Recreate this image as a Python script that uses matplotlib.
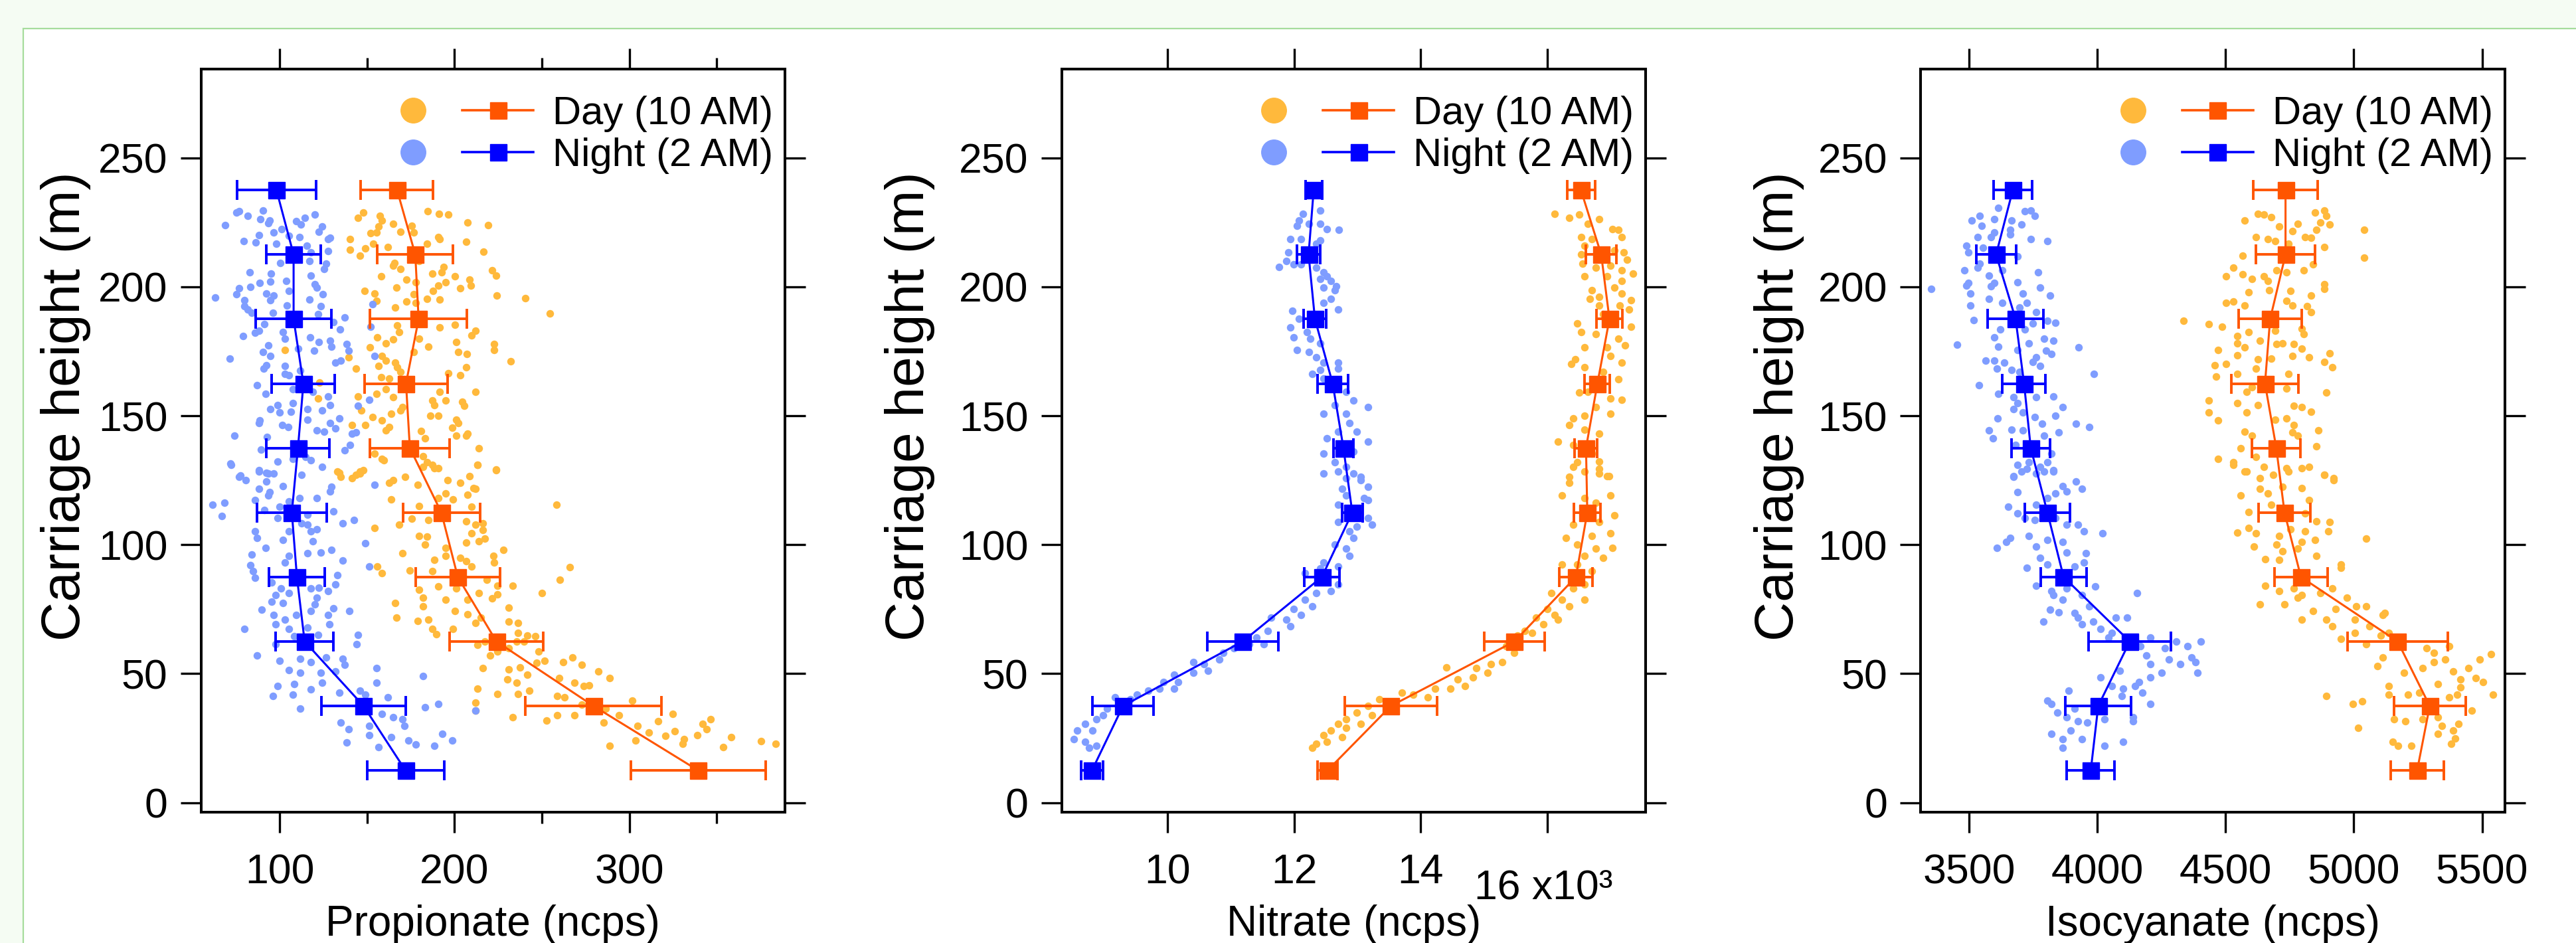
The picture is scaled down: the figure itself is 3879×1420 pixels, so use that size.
import numpy as np
import matplotlib
matplotlib.use('Agg')
import matplotlib.pyplot as plt
import matplotlib.transforms as mtransforms
from matplotlib.lines import Line2D
from matplotlib.legend_handler import HandlerTuple
from matplotlib.patches import Rectangle

plt.rcParams['font.family'] = ['Liberation Sans', 'DejaVu Sans']

# 25 m bins of the carriage height, bottom to top
bin_height = [12.5, 37.5, 62.5, 87.5, 112.5, 137.5, 162.5, 187.5, 212.5, 237.5]

# binned means and spread (ncps); nitrate kept in units of 10^3 ncps
prop_day_mean = [339.4, 279.5, 224.0, 201.9, 192.5, 174.5, 172.3, 179.5, 177.6, 167.2]
prop_day_err = [38.5, 39.0, 26.8, 24.0, 22.0, 22.9, 23.8, 27.7, 21.7, 20.7]
prop_night_mean = [172.0, 148.0, 114.3, 109.9, 107.0, 110.5, 113.6, 108.0, 108.0, 98.2]
prop_night_err = [22.0, 24.0, 16.5, 16.0, 20.0, 18.0, 18.0, 21.5, 15.5, 22.5]

nitr_day_mean = [12.53, 13.53, 15.48, 16.45, 16.63, 16.61, 16.79, 16.98, 16.85, 16.53]
nitr_day_err = [0.16, 0.73, 0.48, 0.26, 0.21, 0.18, 0.20, 0.20, 0.24, 0.22]
nitr_night_mean = [8.81, 9.30, 11.19, 12.44, 12.92, 12.78, 12.61, 12.33, 12.23, 12.31]
nitr_night_err = [0.17, 0.48, 0.56, 0.28, 0.16, 0.16, 0.24, 0.18, 0.18, 0.13]

iso_day_mean = [5247, 5296, 5171, 4794, 4730, 4698, 4654, 4674, 4734, 4734]
iso_day_err = [104, 140, 195, 103, 101, 95, 131, 122, 116, 126]
iso_night_mean = [3975, 4004, 4127, 3869, 3806, 3741, 3715, 3682, 3606, 3671]
iso_night_err = [93, 127, 160, 90, 87, 76, 84, 108, 77, 76]

# individual measurements: (height m, signal)
prop_night_pts = [
    (228.8, 75.3), (229.4, 77.0), (227.5, 81.7), (229.5, 90.3), (226.3, 88.8), (225.6, 94.1), (224.7, 93.5),
    (223.9, 68.9), (222.4, 101.0), (220.1, 88.1), (221.1, 96.7), (217.8, 79.6), (217.1, 86.4), (216.6, 98.0),
    (219.8, 105.2), (219.2, 111.2), (225.4, 109.5), (224.1, 112.0), (226.7, 114.4), (228.1, 120.2),
    (223.4, 124.4), (221.3, 122.3), (218.5, 127.6), (219.0, 128.7), (216.0, 115.5), (213.4, 118.0),
    (213.8, 127.6), (210.0, 117.0), (209.1, 126.6), (207.0, 125.5), (209.3, 100.5), (205.7, 82.8),
    (205.0, 95.2), (202.2, 103.9), (202.0, 94.5), (201.4, 88.6), (200.0, 83.2), (199.4, 77.0), (197.1, 75.3),
    (195.8, 63.2), (194.7, 80.0), (197.5, 92.4), (196.7, 96.7), (194.7, 94.5), (198.4, 105.2), (204.4, 118.0),
    (200.9, 120.2), (199.8, 121.2), (197.1, 124.8), (195.1, 117.2), (192.8, 104.1), (192.4, 80.0),
    (191.1, 81.7), (189.8, 83.9), (189.8, 96.3), (192.4, 123.4), (189.4, 121.9), (188.1, 137.2),
    (186.4, 130.8), (183.4, 134.7), (185.5, 91.3), (182.5, 102.0), (182.1, 86.0), (180.8, 79.2),
    (182.9, 88.1), (179.9, 103.1), (180.4, 117.4), (178.6, 122.3), (179.2, 128.7), (176.1, 110.6),
    (177.3, 93.5), (174.8, 90.3), (173.3, 94.5), (172.2, 71.5), (177.8, 138.3), (175.2, 139.4),
    (176.9, 129.8), (175.2, 119.7), (169.6, 92.4), (168.3, 90.7), (169.2, 103.1), (166.2, 103.1),
    (165.8, 105.2), (167.5, 111.6), (170.5, 131.9), (171.3, 135.1), (161.9, 87.1), (158.5, 92.0),
    (160.2, 107.4), (159.3, 119.1), (157.6, 127.6), (154.2, 98.8), (152.5, 94.5), (151.2, 99.9),
    (155.0, 107.4), (151.6, 106.3), (152.5, 115.9), (152.0, 124.4), (154.2, 128.7), (148.2, 88.6),
    (147.3, 88.1), (146.5, 101.4), (145.6, 104.8), (148.6, 115.9), (147.3, 128.7), (148.9, 134.0),
    (144.3, 121.2), (143.9, 125.5), (145.2, 131.9), (142.2, 74.3), (141.7, 92.8), (137.0, 89.2),
    (132.3, 98.8), (133.2, 107.4), (134.0, 114.8), (132.7, 118.0), (131.6, 71.9), (128.4, 88.1),
    (127.6, 93.5), (127.6, 96.7), (127.2, 112.7), (143.5, 143.6), (138.7, 140.4), (136.6, 137.2),
    (143.0, 141.5), (130.2, 124.4), (126.9, 77.5), (193.2, 153.2), (184.6, 152.2), (173.3, 154.3),
    (156.3, 151.1), (153.8, 144.7),
    (131.0, 72.1), (128.9, 88.1), (128.0, 92.4), (126.3, 77.0), (125.0, 80.7), (124.6, 92.4),
    (122.8, 102.0), (121.6, 88.1), (120.3, 94.1), (117.3, 86.0), (119.0, 93.5), (116.8, 105.2),
    (118.1, 111.2), (118.1, 121.2), (122.4, 129.8), (120.7, 128.7), (115.4, 61.5), (116.2, 68.5),
    (111.1, 66.8), (110.4, 98.8), (113.4, 91.3), (114.7, 99.9), (111.7, 115.9), (108.3, 112.7),
    (105.3, 118.0), (105.3, 105.2), (107.8, 115.9), (106.1, 121.2), (105.3, 86.0), (102.7, 87.1),
    (101.8, 102.0), (101.4, 119.1), (113.0, 130.8), (108.3, 136.2), (109.7, 142.6), (100.5, 149.0),
    (123.3, 154.3), (96.3, 83.9), (98.8, 92.0), (92.0, 83.4), (89.8, 84.9), (93.2, 103.1), (95.8, 105.2),
    (96.7, 115.9), (97.1, 123.4), (98.0, 129.8), (93.8, 136.2), (91.5, 151.1), (88.1, 133.0),
    (84.7, 131.9), (87.2, 86.0), (85.5, 95.6), (83.0, 100.9), (80.4, 97.7), (81.2, 105.2), (83.0, 118.0),
    (83.4, 122.3), (82.1, 127.6), (79.5, 121.2), (76.9, 120.2), (77.8, 95.6), (77.4, 102.0), (74.8, 89.9),
    (72.7, 96.7), (70.9, 103.1), (72.7, 109.5), (74.4, 118.0), (72.7, 127.6), (75.4, 130.8),
    (74.2, 139.8), (69.2, 128.3), (69.2, 97.7), (67.3, 80.0), (67.5, 105.2), (67.9, 115.9),
    (64.5, 108.4), (65.1, 121.9), (65.1, 144.7), (61.5, 144.1), (61.5, 97.7), (57.2, 87.1), (55.1, 99.9),
    (55.9, 111.6), (54.6, 118.0), (56.4, 126.6), (55.9, 136.2), (53.4, 137.2), (51.4, 105.2),
    (50.3, 111.6), (50.3, 123.4), (50.8, 131.9), (52.1, 155.4), (49.2, 182.0), (45.2, 98.8),
    (46.1, 108.4), (43.9, 118.0), (46.5, 124.4), (42.6, 134.0), (43.5, 145.8), (41.8, 149.0),
    (46.5, 155.4), (41.3, 96.0), (41.8, 107.4), (36.6, 111.6), (40.9, 161.8), (37.1, 183.1),
    (38.3, 190.6), (35.8, 211.9), (31.0, 135.1), (28.5, 139.4), (29.8, 151.1), (34.5, 158.6),
    (33.2, 165.0), (29.8, 171.4), (32.3, 170.3), (23.3, 138.3), (21.6, 156.4), (26.3, 151.1),
    (25.5, 163.9), (24.2, 173.5), (22.5, 177.8), (22.0, 188.4), (26.8, 193.1), (24.2, 198.7),
]

prop_day_pts = [
    (228.8, 147.9), (226.7, 144.7), (227.5, 157.5), (225.8, 158.6), (224.5, 165.0), (223.3, 156.4),
    (221.1, 155.4), (220.9, 152.2), (221.3, 169.2), (223.7, 175.6), (221.1, 176.7), (229.4, 184.6),
    (228.4, 191.2), (228.0, 196.6), (225.0, 207.6), (223.9, 219.4), (218.4, 140.4), (214.4, 140.4),
    (212.0, 145.8), (214.9, 149.0), (216.8, 153.7), (215.5, 161.8), (209.3, 165.6), (208.2, 165.0),
    (207.0, 169.2), (210.0, 179.9), (216.8, 184.2), (219.2, 190.6), (218.5, 191.6), (217.5, 206.6),
    (213.6, 216.6), (204.1, 158.1), (199.7, 166.7), (202.9, 172.6), (201.8, 177.8), (197.1, 176.7),
    (205.2, 187.4), (207.8, 193.8), (205.7, 192.7), (204.0, 200.2), (201.8, 194.8), (200.5, 190.6),
    (198.4, 187.8), (195.4, 184.2), (195.0, 191.6), (199.5, 203.4), (202.7, 208.7), (200.5, 209.4),
    (206.5, 221.5), (204.4, 223.7), (196.5, 224.1), (195.6, 240.7), (189.6, 254.6), (198.5, 148.5),
    (197.5, 154.3), (194.5, 155.4), (191.9, 166.0), (194.3, 172.4), (193.7, 177.8), (185.9, 179.9),
    (182.5, 168.2), (185.1, 167.1), (179.5, 165.0), (178.2, 160.7), (180.4, 156.0), (176.5, 151.7),
    (179.9, 179.9), (176.8, 185.2), (184.2, 191.6), (185.2, 200.2), (178.5, 201.2), (181.2, 209.8),
    (182.9, 211.9), (177.8, 222.6), (175.6, 222.6), (174.8, 202.3), (173.9, 207.0), (171.1, 232.2),
    (172.6, 139.4), (173.1, 158.6), (171.3, 160.7), (170.5, 166.0), (168.8, 167.1), (167.1, 169.2),
    (168.3, 143.6), (169.2, 156.4), (164.9, 158.1), (164.5, 162.8), (157.6, 144.7), (158.5, 155.4),
    (160.2, 160.7), (157.2, 165.0), (152.0, 146.8), (149.5, 153.2), (148.2, 158.6), (150.8, 163.9),
    (152.0, 169.2), (153.3, 170.3), (155.9, 187.4), (154.2, 188.4), (155.9, 194.8), (159.3, 191.6),
    (165.8, 203.4), (168.8, 206.6), (159.3, 211.9), (166.4, 196.3), (155.5, 204.4), (153.8, 205.5),
    (149.9, 186.3), (150.1, 190.6), (148.6, 201.2), (147.3, 202.3), (145.3, 198.7), (146.5, 141.5),
    (146.5, 149.0), (144.3, 160.7), (145.6, 162.8), (144.1, 181.0), (141.3, 183.1), (142.2, 206.6),
    (143.0, 207.6), (142.2, 201.2), (137.5, 214.1), (135.3, 154.3), (133.2, 158.6), (132.7, 159.6),
    (134.4, 182.0), (131.9, 184.2), (131.0, 187.4), (129.7, 190.6), (131.0, 213.0), (128.9, 223.7),
    (128.0, 134.0), (128.4, 145.8), (127.2, 143.6), (175.6, 103.1), (156.8, 121.9), (162.8, 122.7),
    (174.8, 176.7),
    (128.4, 133.0), (126.3, 135.1), (125.9, 141.5), (127.6, 145.8), (128.9, 147.9), (124.1, 162.8),
    (125.0, 165.0), (126.3, 171.8), (123.3, 178.8), (130.1, 182.0), (129.7, 188.4), (125.0, 195.9),
    (124.1, 203.4), (122.0, 210.8), (121.6, 211.9), (126.7, 208.7), (131.0, 213.0), (129.1, 223.7),
    (117.7, 163.9), (106.5, 154.3), (96.7, 170.3), (115.1, 179.9), (118.1, 190.6), (119.8, 194.8),
    (117.7, 199.1), (119.4, 207.6), (114.7, 209.8), (107.8, 168.2), (110.0, 175.6), (109.5, 185.2),
    (109.1, 206.6), (107.8, 211.9), (108.3, 216.2), (105.7, 216.2), (103.5, 179.9), (103.1, 184.2),
    (104.4, 209.8), (100.1, 183.1), (98.8, 194.8), (101.4, 214.1), (102.3, 217.3), (100.8, 206.6),
    (94.1, 188.4), (95.8, 194.8), (95.0, 203.4), (93.7, 206.6), (91.5, 209.8), (95.8, 222.2),
    (98.0, 227.9), (93.2, 222.6), (91.5, 156.0), (89.0, 158.6), (90.0, 174.6), (89.8, 187.4),
    (86.4, 218.3), (84.2, 224.7), (84.0, 233.3), (115.6, 258.4), (91.4, 265.9), (86.4, 260.4),
    (81.4, 249.9), (82.5, 179.9), (83.8, 190.6), (83.0, 201.2), (81.2, 214.1), (79.5, 182.0),
    (78.7, 194.8), (78.7, 207.6), (79.1, 221.5), (80.8, 224.7), (75.7, 231.1), (77.4, 166.0),
    (76.1, 182.0), (74.4, 200.2), (73.1, 207.6), (71.8, 215.1), (71.8, 166.7), (70.5, 178.8),
    (70.9, 185.2), (67.5, 187.4), (65.4, 189.5), (67.5, 199.1), (69.7, 211.9), (70.1, 231.1),
    (69.7, 236.5), (64.9, 241.8), (65.8, 236.5), (64.5, 246.1), (62.4, 217.3), (61.1, 213.0),
    (62.4, 235.4), (62.4, 239.7), (57.2, 220.5), (58.5, 224.7), (59.8, 231.1), (58.5, 248.2),
    (52.2, 216.2), (51.6, 231.1), (52.5, 237.5), (49.5, 241.8), (54.2, 247.1), (55.1, 251.4),
    (54.6, 262.1), (56.4, 267.4), (53.4, 272.7), (47.8, 230.1), (46.5, 235.4), (48.2, 259.9),
    (46.5, 268.5), (45.2, 273.8), (45.6, 277.0), (50.8, 282.3), (48.2, 288.7), (44.2, 213.0),
    (42.2, 224.7), (42.2, 236.5), (43.5, 242.9), (41.3, 258.9), (40.9, 263.1), (38.8, 211.9),
    (35.8, 211.9), (33.2, 233.3), (31.9, 252.5), (34.0, 258.9), (34.0, 268.5), (37.9, 272.7),
    (36.6, 286.6), (34.0, 294.1), (39.6, 301.5), (31.0, 285.5), (29.8, 304.7), (27.2, 311.1),
    (31.5, 316.5), (25.9, 320.8), (34.5, 325.0), (27.6, 326.1), (24.6, 331.4), (26.3, 338.9),
    (30.6, 342.1), (28.5, 344.2), (32.3, 346.4), (22.9, 330.4), (22.0, 288.7), (24.2, 303.7),
    (21.6, 353.8), (25.5, 358.1), (23.9, 375.2), (22.9, 383.7),
]

nitr_night_pts = [
    (229.7, 12.41), (228.4, 12.14), (225.8, 12.08), (223.7, 12.05), (224.5, 12.23), (224.5, 12.41),
    (222.4, 12.52), (222.0, 12.71), (218.5, 11.94), (218.5, 12.11), (218.1, 12.41), (216.8, 12.35),
    (213.4, 11.91), (210.0, 11.88), (207.8, 11.76), (208.7, 11.99), (208.7, 12.11), (207.4, 12.35),
    (205.7, 12.47), (204.0, 12.52), (203.1, 12.41), (202.2, 12.58), (200.1, 12.67), (198.8, 12.64),
    (199.7, 12.47), (195.4, 12.58), (193.7, 12.47), (191.1, 12.70), (190.7, 11.97), (187.6, 12.08),
    (184.2, 11.94), (182.5, 12.20), (180.4, 11.99), (179.9, 12.26), (178.2, 12.41), (175.6, 12.05),
    (174.8, 12.23), (172.6, 12.35), (170.5, 12.47), (167.9, 12.41), (166.2, 12.29), (170.5, 12.70),
    (168.3, 12.70), (164.5, 12.47), (159.3, 12.82), (155.9, 12.94), (153.3, 13.17), (154.2, 12.64),
    (150.8, 12.47), (150.8, 12.82), (147.3, 12.88), (143.9, 12.99), (143.9, 12.70), (140.0, 13.17),
    (141.3, 12.52), (135.3, 12.47), (136.2, 12.94), (131.9, 12.64), (127.6, 12.47), (127.6, 12.94),
    (126.3, 13.05), (130.2, 12.82),
    (128.4, 12.70), (125.9, 12.82), (125.0, 13.05), (122.4, 13.17), (121.6, 12.76), (119.0, 12.82),
    (118.1, 13.11), (117.3, 13.17), (115.6, 12.70), (113.8, 12.99), (110.4, 13.17), (107.8, 13.23),
    (108.7, 12.70), (107.0, 12.99), (105.3, 12.88), (102.7, 12.94), (100.1, 12.64), (98.4, 12.82),
    (95.8, 12.88), (93.2, 12.47), (91.5, 12.70), (90.7, 12.41), (89.0, 12.17), (86.4, 12.52),
    (84.7, 12.70), (82.1, 12.58), (81.2, 12.35), (78.7, 12.17), (76.1, 12.29), (75.2, 11.99),
    (72.7, 12.11), (70.9, 11.88), (71.8, 11.64), (68.4, 11.94), (66.6, 11.58), (64.1, 11.41),
    (61.5, 11.29), (61.5, 11.52), (59.8, 11.05), (58.1, 10.88), (55.5, 10.82), (53.8, 10.58),
    (54.6, 10.41), (51.2, 10.64), (50.3, 10.41), (49.5, 10.11), (46.9, 10.17), (46.9, 9.94),
    (44.3, 9.88), (44.3, 10.11), (43.5, 9.70), (41.8, 9.52), (40.1, 9.41), (38.3, 9.29), (40.9, 9.17),
    (36.6, 9.05), (34.0, 8.99), (32.3, 8.88), (30.6, 8.70), (28.0, 8.82), (28.0, 8.58), (24.6, 8.52),
    (23.7, 8.70), (22.0, 8.88), (21.2, 8.76),
]

nitr_day_pts = [
    (228.4, 16.11), (226.7, 16.35), (228.0, 16.50), (224.5, 16.64), (226.3, 16.82), (222.4, 17.03),
    (222.0, 17.12), (219.4, 17.17), (219.4, 16.53), (218.5, 16.70), (216.0, 16.59), (212.5, 16.53),
    (214.2, 17.06), (213.4, 17.20), (210.4, 17.26), (209.1, 16.56), (207.4, 16.76), (208.2, 17.00),
    (206.5, 17.17), (205.2, 17.35), (204.0, 16.59), (204.0, 16.94), (202.2, 17.17), (199.7, 17.06),
    (198.8, 16.70), (196.2, 16.82), (197.5, 17.17), (194.9, 17.32), (195.4, 16.67), (192.8, 16.82),
    (192.8, 17.14), (191.1, 17.29), (185.9, 16.47), (189.4, 16.88), (185.9, 17.00), (184.6, 17.32),
    (182.5, 16.53), (181.6, 16.76), (179.9, 17.12), (177.3, 17.23), (176.5, 16.59), (176.5, 16.94),
    (171.8, 16.44), (170.1, 16.38), (168.8, 16.59), (173.1, 17.00), (170.5, 17.17), (167.1, 16.88),
    (164.1, 17.12), (158.9, 16.50), (159.3, 16.64), (156.8, 17.00), (156.3, 17.17), (153.3, 16.76),
    (150.8, 17.00), (149.0, 16.41), (149.9, 16.59), (146.5, 16.35), (144.7, 16.59), (143.0, 16.82),
    (140.0, 16.17), (138.7, 16.41), (135.3, 16.70), (132.3, 16.82), (131.9, 16.47), (128.4, 16.59),
    (127.6, 16.82), (126.7, 16.97), (126.3, 16.35),
    (130.1, 16.41), (129.3, 16.82), (126.7, 16.94), (124.1, 16.35), (119.0, 16.23), (118.1, 16.59),
    (119.0, 17.00), (116.4, 16.76), (111.3, 17.06), (108.7, 16.82), (107.8, 16.41), (102.7, 16.29),
    (103.5, 16.70), (104.4, 17.00), (100.1, 16.47), (98.4, 16.76), (98.8, 17.03), (95.8, 16.59),
    (95.0, 16.88), (92.4, 16.23), (92.4, 16.47), (89.8, 16.70), (84.7, 16.59), (83.0, 16.41),
    (81.2, 16.06), (78.7, 16.23), (78.7, 16.59), (76.1, 16.35), (75.2, 16.00), (72.7, 16.11),
    (71.8, 15.82), (69.2, 15.94), (70.9, 16.17), (66.6, 15.64), (64.9, 15.53), (65.8, 15.76),
    (60.6, 15.35), (58.1, 15.47), (54.6, 15.29), (53.8, 15.11), (52.1, 14.88), (50.3, 15.06),
    (48.6, 14.82), (47.8, 14.58), (45.2, 14.70), (52.5, 14.41), (44.3, 14.47), (44.3, 14.23),
    (40.9, 14.11), (41.8, 13.88), (42.6, 13.70), (40.1, 13.35), (37.5, 13.17), (34.0, 13.23),
    (34.9, 12.99), (32.3, 12.82), (30.6, 12.70), (28.0, 12.58), (26.3, 12.47), (23.7, 12.52),
    (22.9, 12.35), (25.5, 12.76), (28.9, 12.82), (30.6, 13.05), (21.2, 12.29),
]

iso_night_pts = [
    (230.5, 3615), (227.5, 3541), (225.8, 3512), (223.7, 3549), (226.3, 3600), (225.8, 3667),
    (229.3, 3719), (229.7, 3741), (227.5, 3756), (224.1, 3704), (222.0, 3660), (221.1, 3600),
    (219.4, 3534), (219.4, 3586), (220.2, 3660), (218.5, 3741), (217.8, 3807), (216.0, 3490),
    (213.4, 3497), (215.1, 3556), (211.7, 3689), (209.1, 3541), (206.5, 3482), (207.4, 3534),
    (204.4, 3578), (206.5, 3630), (201.4, 3600), (201.4, 3497), (200.5, 3490), (197.5, 3505),
    (195.4, 3578), (200.1, 3586), (199.2, 3352), (201.8, 3689), (205.7, 3770), (199.7, 3778),
    (197.5, 3711), (196.7, 3815), (192.8, 3505), (193.7, 3630), (191.9, 3696), (193.7, 3726),
    (190.2, 3763), (187.2, 3519), (186.1, 3837), (186.8, 3807), (185.9, 3748), (183.4, 3719),
    (183.4, 3623), (180.4, 3600), (177.5, 3453), (176.9, 3615), (175.6, 3689), (178.2, 3733),
    (179.9, 3792), (179.1, 3829), (176.5, 3928), (175.2, 3800), (173.9, 3822), (172.6, 3763),
    (171.3, 3564), (171.3, 3600), (170.5, 3637), (168.3, 3608), (167.9, 3667), (170.9, 3748),
    (169.2, 3778), (167.1, 3696), (166.2, 3987), (161.9, 3539), (158.5, 3615), (157.2, 3674),
    (155.0, 3689), (157.2, 3763), (157.6, 3829), (153.3, 3866), (152.5, 3674), (151.2, 3711),
    (149.0, 3611), (149.5, 3756), (146.9, 3785), (149.9, 3837), (146.9, 3918), (145.6, 3970),
    (144.3, 3578), (141.3, 3593), (144.7, 3667), (144.3, 3711), (142.2, 3792), (143.5, 3851),
    (138.7, 3682), (135.3, 3822), (131.0, 3689), (131.9, 3733), (130.2, 3778), (131.9, 3807),
    (126.7, 3674), (128.4, 3829), (128.4, 3704),
    (126.3, 3674), (129.3, 3726), (127.6, 3763), (128.4, 3792), (128.9, 3829), (122.8, 3866),
    (124.6, 3918), (121.6, 3940), (120.7, 3881), (119.8, 3837), (118.1, 3807), (115.6, 3763),
    (120.3, 3689), (114.7, 3652), (112.1, 3689), (110.4, 3719), (109.5, 3756), (110.4, 3837),
    (107.8, 3881), (107.8, 3925), (105.3, 3947), (104.4, 4021), (103.5, 3733), (102.7, 3660),
    (98.8, 3608), (101.0, 3645), (99.3, 3763), (101.8, 3807), (101.0, 3866), (97.1, 3881),
    (96.7, 3955), (95.0, 3778), (92.4, 3807), (91.5, 3911), (93.2, 3947), (91.1, 3726), (84.2, 3763),
    (82.1, 3822), (80.4, 3829), (78.7, 3866), (83.0, 3881), (80.4, 3940), (83.8, 3992), (81.2, 4154),
    (74.8, 3815), (73.9, 3851), (73.5, 3911), (71.8, 3925), (76.1, 3970), (69.2, 3940), (70.1, 3984),
    (67.5, 4014), (65.8, 4058), (71.8, 4073), (71.8, 4117), (70.1, 3790), (64.1, 4043), (63.2, 4147),
    (64.1, 4206), (59.8, 4265), (62.4, 4309), (60.6, 4353), (62.4, 4405), (55.5, 4280), (53.8, 4324),
    (56.4, 4368), (54.6, 4383), (50.3, 4390), (57.2, 4191), (60.6, 4169), (50.3, 4250), (48.6, 4206),
    (46.9, 4162), (45.2, 4147), (53.8, 4206), (51.2, 4088), (48.6, 4014), (45.2, 4058), (44.3, 4102),
    (41.3, 4095), (42.6, 4176), (43.5, 3888), (39.6, 3807), (38.3, 3822), (34.9, 3844), (36.6, 3911),
    (33.2, 3881), (31.5, 3925), (31.0, 3962), (32.3, 4029), (33.2, 4139), (38.3, 4206), (31.5, 4139),
    (28.0, 3896), (26.8, 3822), (24.6, 3866), (24.6, 3940), (21.2, 3866), (22.0, 4029), (23.7, 4102),
]

iso_day_pts = [
    (228.4, 4627), (228.0, 4649), (227.1, 4678), (225.8, 4575), (223.3, 4708), (224.5, 4782),
    (228.8, 4848), (229.7, 4885), (227.5, 4892), (225.0, 4870), (224.1, 4907), (222.0, 4855),
    (219.4, 4811), (219.0, 4833), (221.5, 4760), (219.4, 4619), (218.5, 4664), (217.7, 4693),
    (216.8, 4745), (215.5, 4885), (222.1, 5040), (211.2, 5040), (212.1, 4568), (207.4, 4531),
    (204.8, 4568), (204.0, 4501), (203.1, 4604), (204.0, 4649), (202.2, 4664), (206.5, 4700),
    (205.7, 4737), (206.5, 4804), (208.7, 4841), (197.9, 4590), (198.8, 4671), (198.4, 4752),
    (196.7, 4833), (201.0, 4885), (199.2, 4885), (193.7, 4501), (194.3, 4531), (192.8, 4575),
    (194.5, 4737), (192.8, 4760), (192.4, 4819), (190.2, 4833), (186.8, 4336), (185.5, 4435),
    (184.6, 4486), (182.9, 4693), (183.8, 4796), (181.6, 4804), (180.8, 4545), (182.5, 4590),
    (179.1, 4634), (178.2, 4545), (176.5, 4575), (177.8, 4700), (178.2, 4723), (177.8, 4767),
    (176.1, 4796), (175.6, 4472), (173.5, 4545), (171.8, 4627), (172.2, 4678), (173.1, 4760),
    (172.6, 4826), (174.3, 4907), (169.6, 4457), (170.1, 4501), (168.3, 4619), (166.2, 4745),
    (166.2, 4545), (168.8, 4915), (170.9, 4885), (165.3, 4464), (161.0, 4604), (159.3, 4582),
    (160.6, 4737), (158.9, 4892), (155.9, 4435), (155.0, 4545), (151.2, 4582), (154.2, 4627),
    (153.8, 4767), (153.3, 4796), (151.6, 4833), (151.2, 4435), (148.2, 4472), (148.6, 4693),
    (149.0, 4737), (146.5, 4767), (143.9, 4575), (142.2, 4604), (143.5, 4760), (144.3, 4863),
    (137.5, 4560), (134.0, 4619), (142.2, 4782), (138.3, 4855), (133.2, 4472), (131.9, 4531),
    (128.4, 4575), (130.2, 4649), (129.7, 4737), (130.2, 4826), (127.2, 4885), (125.9, 4922),
    (131.0, 4531), (128.4, 4582), (125.9, 4634), (127.1, 4686), (128.4, 4745), (129.7, 4796),
    (127.1, 4885), (125.0, 4922), (121.6, 4634), (119.8, 4664), (122.4, 4723), (122.0, 4796),
    (117.3, 4826), (119.0, 4560), (112.6, 4590), (115.6, 4678), (112.1, 4811), (109.1, 4855),
    (108.7, 4907), (106.5, 4590), (104.8, 4545), (104.4, 4619), (103.5, 4708), (106.1, 4752),
    (105.3, 4811), (101.8, 4848), (105.3, 4900), (102.3, 5047), (99.3, 4612), (100.1, 4700),
    (97.5, 4723), (98.4, 4782), (101.0, 4796), (94.5, 4656), (94.1, 4708), (95.8, 4855), (92.4, 4951),
    (91.1, 4951), (84.2, 4656), (82.1, 4708), (83.0, 4767), (80.4, 4796), (76.9, 4634), (76.9, 4730),
    (79.5, 4782), (81.2, 4870), (83.0, 4915), (74.4, 4841), (75.2, 4929), (79.5, 4974), (76.1, 5010),
    (76.1, 5047), (70.9, 4796), (70.9, 4892), (68.4, 4915), (70.9, 5003), (68.4, 5062), (72.7, 5114),
    (73.5, 5121), (63.6, 4951), (65.8, 5003), (61.5, 5047), (64.9, 5106), (65.8, 5136), (59.8, 5284),
    (58.1, 5313), (60.6, 5372), (52.9, 5092), (56.4, 5114), (50.3, 5195), (52.1, 5269), (54.6, 5313),
    (55.5, 5357), (46.1, 5328), (50.8, 5387), (52.1, 5446), (55.5, 5490), (57.6, 5535), (46.9, 5505),
    (48.2, 5476), (47.8, 5417), (44.8, 5417), (45.2, 5136), (41.8, 5136), (41.3, 4892), (38.3, 4996),
    (39.2, 5033), (41.8, 5210), (42.6, 5254), (40.9, 5372), (41.8, 5402), (35.8, 5461), (41.8, 5542),
    (28.9, 5018), (32.3, 5158), (31.5, 5202), (32.3, 5269), (29.8, 5343), (26.8, 5328), (28.0, 5387),
    (25.0, 5394), (23.7, 5151), (22.0, 5173), (22.0, 5225), (22.9, 5380), (33.2, 5328), (30.6, 5409),
]

day_dot = '#ffb93c'
night_dot = '#7f9dff'
day_line = '#ff5500'
night_line = '#0000ff'

panels = [
    dict(day_pts=prop_day_pts, night_pts=prop_night_pts,
         day_mean=prop_day_mean, day_err=prop_day_err,
         night_mean=prop_night_mean, night_err=prop_night_err,
         xlabel='Propionate (ncps)', xlim=(55, 389), ticks=[100, 200, 300],
         minor=[150, 250, 350], left=0.0780, ylab_x=-0.232),
    dict(day_pts=nitr_day_pts, night_pts=nitr_night_pts,
         day_mean=nitr_day_mean, day_err=nitr_day_err,
         night_mean=nitr_night_mean, night_err=nitr_night_err,
         xlabel='Nitrate (ncps)', xlim=(8.33, 17.55), ticks=[10, 12, 14, 16],
         minor=[], left=0.4121, ylab_x=-0.260),
    dict(day_pts=iso_day_pts, night_pts=iso_night_pts,
         day_mean=iso_day_mean, day_err=iso_day_err,
         night_mean=iso_night_mean, night_err=iso_night_err,
         xlabel='Isocyanate (ncps)', xlim=(3312, 5588), ticks=[3500, 4000, 4500, 5000, 5500],
         minor=[], left=0.7456, ylab_x=-0.242),
]

fig = plt.figure(figsize=(38.79, 14.20), dpi=100, facecolor='#f5fcf3')
# white page with a thin green edge
fig.add_artist(Rectangle((0.009, -0.1), 1.2, 1.0697, transform=fig.transFigure,
                         facecolor='white', edgecolor='#a6dc9c', linewidth=1.6, zorder=0))

for p in panels:
    ax = fig.add_axes([p['left'], 0.1387, 0.2267, 0.7883])
    ax.set_facecolor('white')

    dh, dv = np.array(p['day_pts']).T
    nh, nv = np.array(p['night_pts']).T
    ax.scatter(dv, dh, s=68, color=day_dot, linewidths=0, zorder=1)
    ax.scatter(nv, nh, s=68, color=night_dot, linewidths=0, zorder=1)

    for mean, err, col in [(p['day_mean'], p['day_err'], day_line),
                           (p['night_mean'], p['night_err'], night_line)]:
        ax.errorbar(mean, bin_height, xerr=err, color=col, marker='s', ms=18, lw=2.2,
                    elinewidth=2.8, capsize=10.5, capthick=2.8, zorder=3)

    ax.set_xlim(*p['xlim'])
    ax.set_ylim(-3.7, 284.5)
    ax.set_xticks(p['ticks'])
    ax.set_xticks(p['minor'], minor=True)
    ax.set_yticks([0, 50, 100, 150, 200, 250])

    for s in ax.spines.values():
        s.set_linewidth(2.9)
    ax.tick_params(axis='both', which='major', direction='out', length=22, width=2.4,
                   top=True, right=True, labelsize=45)
    ax.tick_params(axis='x', which='major', pad=22)
    ax.tick_params(axis='y', which='major', pad=14)
    ax.tick_params(axis='x', which='minor', direction='out', length=12, width=2.4, top=True)

    ax.set_xlabel(p['xlabel'], fontsize=46)
    ax.xaxis.label.set_va('baseline')
    ax.xaxis.set_label_coords(0.5, -0.166)
    ax.set_ylabel('Carriage height (m)', fontsize=59)
    ax.yaxis.label.set_va('center')
    ax.yaxis.set_label_coords(p['ylab_x'], 0.546)

    h_day = (Line2D([], [], ls='none', marker='o', ms=27, color=day_dot),
             Line2D([], [], color=day_line, marker='s', ms=18, lw=2.6))
    h_night = (Line2D([], [], ls='none', marker='o', ms=27, color=night_dot),
               Line2D([], [], color=night_line, marker='s', ms=18, lw=2.6))
    ax.legend([h_day, h_night], ['Day (10 AM)', 'Night (2 AM)'],
              handler_map={tuple: HandlerTuple(ndivide=None, pad=0.34)},
              loc='upper right', bbox_to_anchor=(1.0, 0.98), frameon=False,
              fontsize=43, handlelength=3.93, handletextpad=0.48,
              labelspacing=0.14, borderpad=0.3, borderaxespad=0)

    if p['xlabel'].startswith('Nitrate'):
        ax.set_xticklabels(['10', '12', '14', ''])
        trans = mtransforms.blended_transform_factory(ax.transData, ax.transAxes)
        ax.text(14.85, -0.103, '16 x10\u00b3', transform=trans, ha='left', va='center',
                fontsize=45)

fig.savefig('out.png', dpi=100, facecolor=fig.get_facecolor())
